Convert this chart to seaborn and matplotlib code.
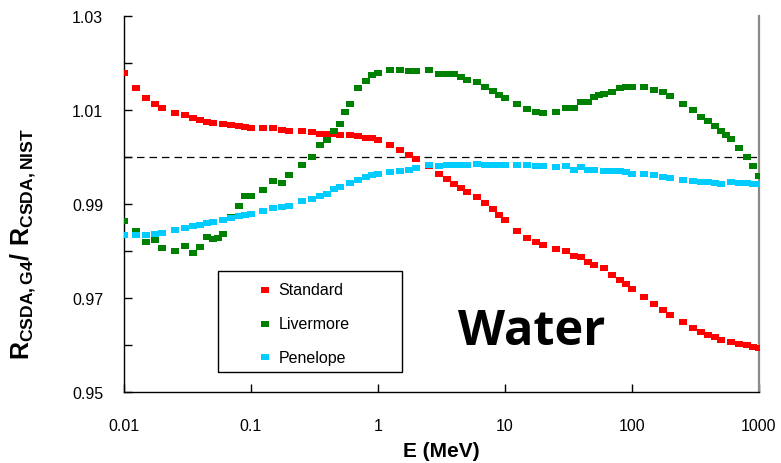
import numpy as np
import pandas as pd
import matplotlib
matplotlib.use("Agg")
import matplotlib.pyplot as plt
import seaborn as sns
from matplotlib.patches import Rectangle
from matplotlib.ticker import FixedLocator, FixedFormatter, NullLocator

# ---------------- data ----------------
energy_std = [0.01, 0.0125, 0.015, 0.0175, 0.02, 0.025, 0.03, 0.035, 0.04, 0.045, 0.05, 0.06, 0.07, 0.08, 0.09,
              0.1, 0.125, 0.15, 0.175, 0.2, 0.25, 0.3, 0.35, 0.4, 0.45, 0.5, 0.6, 0.7, 0.8, 0.9,
              1, 1.25, 1.5, 1.75, 2, 2.5, 3, 3.5, 4, 4.5, 5, 6, 7, 8, 9,
              10, 12.5, 15, 17.5, 20, 25, 30, 35, 40, 45, 50, 60, 70, 80, 90,
              100, 125, 150, 175, 200, 250, 300, 350, 400, 450, 500, 600, 700, 800, 900,
              1000]
standard = [1.0179, 1.0147, 1.0126, 1.0113, 1.0105, 1.0094, 1.0090, 1.0084, 1.0079, 1.0074, 1.0073, 1.0071, 1.0068, 1.0066, 1.0064,
            1.0062, 1.0061, 1.0061, 1.0058, 1.0056, 1.0056, 1.0054, 1.0049, 1.0049, 1.0048, 1.0047, 1.0047, 1.0045, 1.0041, 1.0040,
            1.0037, 1.0026, 1.0015, 1.0004, 0.9996, 0.9981, 0.9963, 0.9953, 0.9943, 0.9934, 0.9925, 0.9914, 0.9902, 0.9889, 0.9877,
            0.9866, 0.9843, 0.9828, 0.9820, 0.9813, 0.9804, 0.9800, 0.9790, 0.9787, 0.9777, 0.9771, 0.9763, 0.9749, 0.9739, 0.9730,
            0.9719, 0.9703, 0.9687, 0.9674, 0.9664, 0.9648, 0.9636, 0.9627, 0.9622, 0.9616, 0.9611, 0.9607, 0.9602, 0.9599, 0.9595,
            0.9593]

energy_liv = [0.01, 0.0125, 0.015, 0.0175, 0.02, 0.025, 0.03, 0.035, 0.04, 0.045, 0.05, 0.055, 0.06, 0.07, 0.08, 0.09,
              0.1, 0.125, 0.15, 0.175, 0.2, 0.25, 0.3, 0.35, 0.4, 0.45, 0.5, 0.55, 0.6, 0.7, 0.8, 0.9,
              1, 1.25, 1.5, 1.75, 2, 2.5, 3, 3.5, 4, 4.5, 5, 6, 7, 8, 9,
              10, 12.5, 15, 17.5, 20, 25, 30, 35, 40, 45, 50, 55, 60, 70, 80, 90,
              100, 125, 150, 175, 200, 250, 300, 350, 400, 450, 500, 550, 600, 700, 800, 900,
              1000]
livermore = [0.9864, 0.9843, 0.9820, 0.9824, 0.9807, 0.9800, 0.9810, 0.9796, 0.9809, 0.9829, 0.9825, 0.9827, 0.9836, 0.9873, 0.9896, 0.9916,
             0.9918, 0.9930, 0.9948, 0.9944, 0.9962, 0.9984, 1.0001, 1.0026, 1.0037, 1.0056, 1.0070, 1.0096, 1.0113, 1.0146, 1.0162, 1.0174,
             1.0179, 1.0186, 1.0186, 1.0184, 1.0184, 1.0186, 1.0177, 1.0177, 1.0177, 1.0170, 1.0164, 1.0159, 1.0150, 1.0140, 1.0132,
             1.0126, 1.0113, 1.0102, 1.0095, 1.0094, 1.0096, 1.0104, 1.0104, 1.0116, 1.0118, 1.0127, 1.0131, 1.0133, 1.0139, 1.0146, 1.0150,
             1.0148, 1.0148, 1.0143, 1.0138, 1.0129, 1.0113, 1.0100, 1.0086, 1.0077, 1.0067, 1.0056, 1.0047, 1.0038, 1.0019, 1.0001, 0.9981,
             0.9960]

energy_pen = energy_std
penelope = [0.9835, 0.9835, 0.9833, 0.9836, 0.9839, 0.9845, 0.9850, 0.9854, 0.9855, 0.9859, 0.9862, 0.9867, 0.9870, 0.9874, 0.9877,
            0.9879, 0.9885, 0.9891, 0.9893, 0.9896, 0.9906, 0.9911, 0.9918, 0.9921, 0.9932, 0.9936, 0.9944, 0.9952, 0.9957, 0.9962,
            0.9964, 0.9969, 0.9971, 0.9973, 0.9976, 0.9984, 0.9980, 0.9983, 0.9984, 0.9984, 0.9984, 0.9985, 0.9984, 0.9984, 0.9984,
            0.9984, 0.9983, 0.9983, 0.9981, 0.9980, 0.9979, 0.9981, 0.9973, 0.9978, 0.9973, 0.9973, 0.9970, 0.9970, 0.9970, 0.9969,
            0.9964, 0.9963, 0.9962, 0.9957, 0.9955, 0.9952, 0.9950, 0.9947, 0.9946, 0.9945, 0.9943, 0.9946, 0.9945, 0.9945, 0.9943,
            0.9943]

series_names = ["Standard", "Livermore", "Penelope"]
series_colors = ["#FF0000", "#008000", "#00CCFF"]
x_ticks = [0.01, 0.1, 1, 10, 100, 1000]
x_ticklabels = ["0.01", "0.1", "1", "10", "100", "1000"]
y_major = [0.95, 0.97, 0.99, 1.01, 1.03]
y_ticklabels = ["0.95", "0.97", "0.99", "1.01", "1.03"]
y_minor = [0.96, 0.98, 1.00, 1.02]
reference_level = 1.0

# ---------------- style ----------------
sns.set_theme(style="white")
plt.rcParams["font.family"] = ["Liberation Sans", "DejaVu Sans"]
plt.rcParams["text.color"] = "black"
plt.rcParams["axes.labelcolor"] = "black"
plt.rcParams["mathtext.fontset"] = "custom"
plt.rcParams["mathtext.rm"] = "Liberation Sans:bold"
plt.rcParams["mathtext.bf"] = "Liberation Sans:bold"
plt.rcParams["mathtext.it"] = "Liberation Sans:bold"
plt.rcParams["mathtext.default"] = "rm"

fig = plt.figure(figsize=(7.81, 4.64), dpi=100)
ax = fig.add_axes([124 / 781, 71 / 464, 635 / 781, 376 / 464])

rect_marker = [(-1, -0.72), (1, -0.72), (1, 0.72), (-1, 0.72), (-1, -0.72)]

frames = [
    pd.DataFrame({"E": energy_std, "ratio": standard}),
    pd.DataFrame({"E": energy_liv, "ratio": livermore}),
    pd.DataFrame({"E": energy_pen, "ratio": penelope}),
]
for df, name, col in zip(frames, series_names, series_colors):
    sns.scatterplot(data=df, x="E", y="ratio", ax=ax, color=col, marker=rect_marker,
                    s=34, linewidth=0, label=name, zorder=3)

ax.axhline(reference_level, color="black", lw=0.9, dashes=(6, 4), zorder=2)

ax.set_xscale("log")
ax.set_xlim(0.01, 1000)
ax.set_ylim(0.95, 1.03)
ax.xaxis.set_major_locator(FixedLocator(x_ticks))
ax.xaxis.set_major_formatter(FixedFormatter(x_ticklabels))
ax.xaxis.set_minor_locator(NullLocator())
ax.yaxis.set_major_locator(FixedLocator(y_major))
ax.yaxis.set_major_formatter(FixedFormatter(y_ticklabels))
ax.yaxis.set_minor_locator(FixedLocator(y_minor))

ax.tick_params(axis="both", which="both", direction="in", length=5.5, width=1, colors="black",
               left=True, bottom=True, right=False, top=False)
ax.tick_params(axis="x", which="major", labelsize=11.5, pad=19)
ax.tick_params(axis="y", which="major", labelsize=11.5, pad=15)

for s in ["left", "bottom"]:
    ax.spines[s].set_color("black")
    ax.spines[s].set_linewidth(1.0)
ax.spines["top"].set_visible(False)
ax.spines["right"].set_color("#8a8a8a")
ax.spines["right"].set_linewidth(1.6)

ax.set_xlabel("E (MeV)", fontsize=15, fontweight="bold", color="black")
ax.xaxis.set_label_coords(0.5, -0.13)
ax.set_ylabel(r"$\mathrm{R}_{\mathrm{CSDA,G4}}\mathrm{/\ R}_{\mathrm{CSDA,NIST}}$", fontsize=18, color="black")
ax.yaxis.set_label_coords(-0.136, 0.396)

handles, labels = ax.get_legend_handles_labels()
leg = ax.legend(handles, labels, loc="upper left", bbox_to_anchor=(0.2094, 0.292), frameon=False,
                borderpad=0, borderaxespad=0, handlelength=1.0, handletextpad=0.36,
                labelspacing=1.17, fontsize=11.5, scatterpoints=1)
for t in leg.get_texts():
    t.set_color("black")
ax.add_patch(Rectangle((0.148, 0.0532), 0.2898, 0.2686, transform=ax.transAxes,
                       fill=False, ec="black", lw=1.0, zorder=4))

ax.text(0.6425, 0.1277, "Water", transform=ax.transAxes, ha="center", va="baseline",
        fontsize=35, fontweight="bold", color="black", family=["Open Sans", "DejaVu Sans"])

fig.savefig("out.png", dpi=100)
